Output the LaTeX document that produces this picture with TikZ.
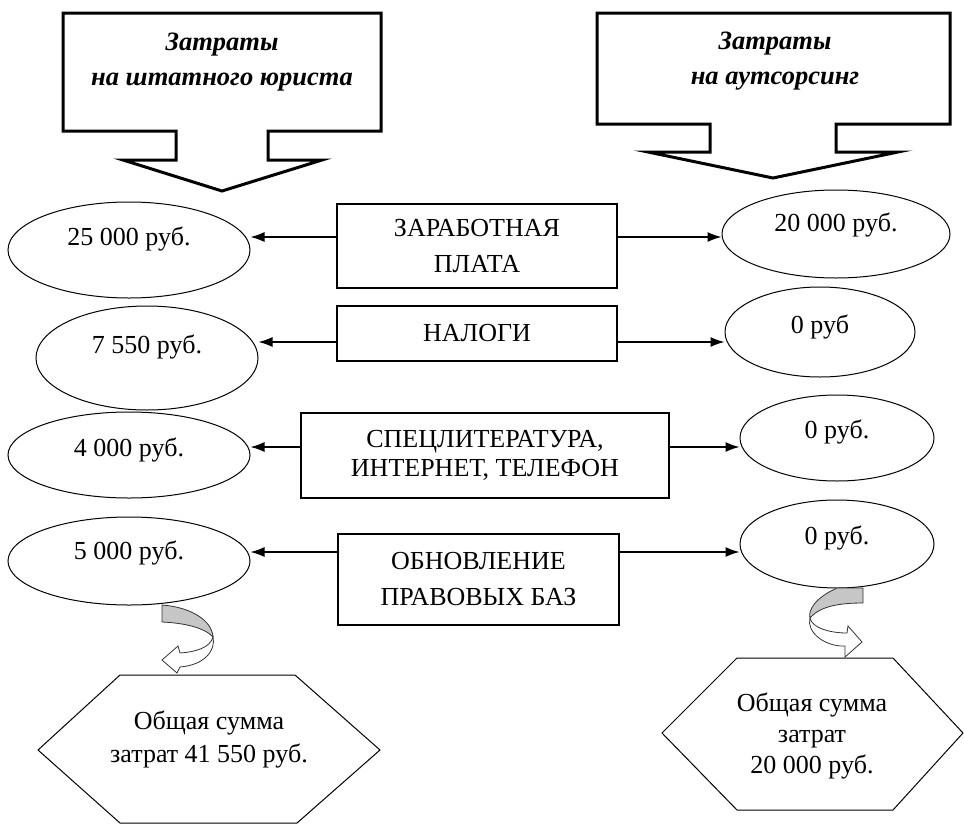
\documentclass[tikz,border=0pt]{standalone}
\usepackage{fontspec}
\setmainfont{Liberation Serif}
\usetikzlibrary{shapes.geometric,arrows.meta}

\begin{document}
\begin{tikzpicture}[x=1pt, y=-1pt,
	font=\fontsize{26}{36}\selectfont,
	oval/.style={draw, ellipse, inner sep=0pt, line width=1pt},
	costbox/.style={draw, line width=1.3pt, align=center, inner sep=0pt},
	callout/.style={draw, line width=3pt, line join=miter, fill=white},
	headtext/.style={align=center, font=\fontsize{26.5}{35}\selectfont\bfseries\itshape},
	ribbon/.style={draw=black!80, line width=0.8pt},
	arr/.style={line width=1.3pt, -{Latex[length=14pt, width=10pt]}}]
	\useasboundingbox (0,0) rectangle (964,825);

	\draw[callout] (63,13) -- (381,13) -- (381,131) -- (268,131) -- (268,160) -- (322,160) -- (222,191) -- (123,160) -- (176,160) -- (176,131) -- (63,131) -- cycle;
	\draw[callout] (597,13) -- (950,13) -- (950,124) -- (836,124) -- (836,152) -- (898,152) -- (773,178) -- (648,152) -- (710,152) -- (710,124) -- (597,124) -- cycle;
	\node[headtext] (hStaff) at (222,62) {Затраты\\на штатного юриста};
	\node[headtext] (hOut) at (775,61) {Затраты\\на аутсорсинг};

	\node[costbox, minimum width=280pt, minimum height=84pt] (bSalary) at (477,246) {ЗАРАБОТНАЯ\\ПЛАТА};
	\node[costbox, minimum width=280pt, minimum height=55pt] (bTax) at (477,333.5) {НАЛОГИ};
	\node[costbox, minimum width=368pt, minimum height=85pt] (bLit) at (485,455.5) {СПЕЦЛИТЕРАТУРА,\\[-7pt]ИНТЕРНЕТ, ТЕЛЕФОН};
	\node[costbox, minimum width=281pt, minimum height=91pt] (bBase) at (478.5,579.5) {ОБНОВЛЕНИЕ\\ПРАВОВЫХ БАЗ};

	\node[oval, minimum width=242pt, minimum height=96pt, label={[yshift=11pt]center:25 000 руб.}] (eL1) at (129,250) {};
	\node[oval, minimum width=222pt, minimum height=104pt, label={[yshift=11pt]center:7 550 руб.}] (eL2) at (147,358) {};
	\node[oval, minimum width=242pt, minimum height=86pt, label={[yshift=5pt]center:4 000 руб.}] (eL3) at (129,455) {};
	\node[oval, minimum width=242pt, minimum height=88pt, label={[yshift=8pt]center:5 000 руб.}] (eL4) at (129,561) {};

	\node[oval, minimum width=228pt, minimum height=88pt, label={[yshift=9pt]center:20 000 руб.}] (eR1) at (836,234) {};
	\node[oval, minimum width=190pt, minimum height=90pt, label={[yshift=5pt]center:0 руб}] (eR2) at (820,332) {};
	\node[oval, minimum width=194pt, minimum height=86pt, label={[yshift=6pt]center:0 руб.}] (eR3) at (837,438) {};
	\node[oval, minimum width=194pt, minimum height=88pt, label={[yshift=6pt]center:0 руб.}] (eR4) at (837,544) {};

	\coordinate (aL1) at ([yshift=9pt]bSalary.west);
	\coordinate (aR1) at ([yshift=9pt]bSalary.east);
	\coordinate (aL2) at ([yshift=-8.5pt]bTax.west);
	\coordinate (aR2) at ([yshift=-8.5pt]bTax.east);
	\coordinate (aL3) at ([yshift=8.5pt]bLit.west);
	\coordinate (aR3) at ([yshift=8.5pt]bLit.east);
	\coordinate (aL4) at ([yshift=27.5pt]bBase.west);
	\coordinate (aR4) at ([yshift=27.5pt]bBase.east);
	\draw[arr] (aL1) -- (eL1.east |- aL1);
	\draw[arr] (aR1) -- (eR1.west |- aR1);
	\draw[arr] (aL2) -- (eL2.east |- aL2);
	\draw[arr] (aR2) -- (eR2.west |- aR2);
	\draw[arr] (aL3) -- (eL3.east |- aL3);
	\draw[arr] (aR3) -- (eR3.west |- aR3);
	\draw[arr] (aL4) -- (eL4.east |- aL4);
	\draw[arr] (aR4) -- (eR4.west |- aR4);

	\draw[ribbon, fill=gray!45] (162,605) .. controls (190,607) and (212,620) .. (213,637) .. controls (205,628) and (185,623) .. (162,622) -- cycle;
	\draw[ribbon, fill=white] (213,637) .. controls (216,650) and (205,665) .. (180,667) -- (177,673) -- (162,660) -- (178,646) -- (180,653) .. controls (195,652) and (210,648) .. (213,637) -- cycle;
	\draw[ribbon, fill=gray!45] (863,588) -- (863,603) .. controls (840,603) and (820,606) .. (810,618) .. controls (808,610) and (815,598) .. (837,588) -- cycle;
	\draw[ribbon, fill=white] (810,618) .. controls (812,628) and (830,633) .. (847,633) -- (848,626) -- (862,642) -- (845,657) -- (845,646) .. controls (825,647) and (806,632) .. (810,618) -- cycle;

	\draw[line width=1pt] (120,675) -- (295,675) -- (380,750) -- (297,823) -- (120,823) -- (38,750) -- cycle;
	\draw[line width=1pt] (737,658) -- (893,658) -- (963,733) -- (893,810) -- (737,810) -- (662,733) -- cycle;
	\node[align=center, font=\fontsize{26}{33}\selectfont] (sumStaff) at (209,739) {Общая сумма\\затрат 41 550 руб.};
	\node[align=center, font=\fontsize{26}{31}\selectfont] (sumOut) at (812,736) {Общая сумма\\затрат\\20 000 руб.};
\end{tikzpicture}
\end{document}
